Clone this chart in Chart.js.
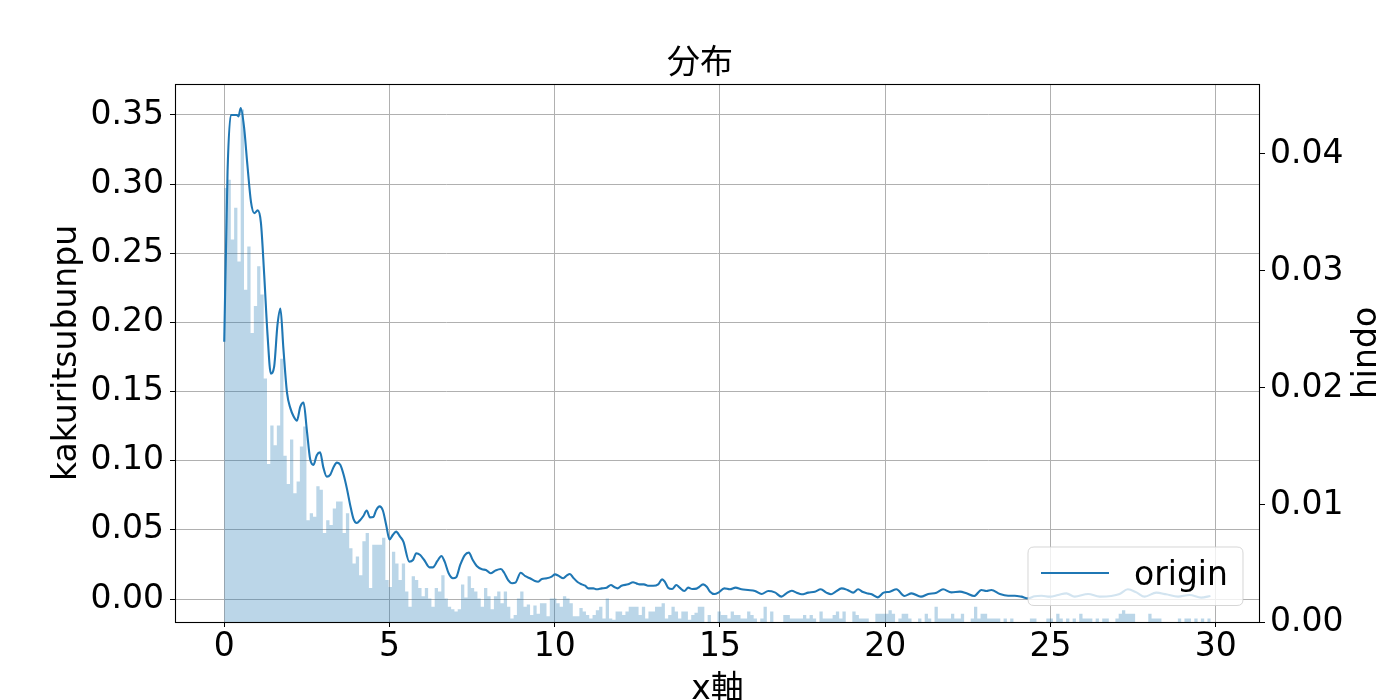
<!DOCTYPE html>
<html>
<head>
<meta charset="utf-8">
<script src="https://cdn.jsdelivr.net/npm/chart.js@4.4.1/dist/chart.umd.min.js"></script>
<style>
  html, body { margin: 0; padding: 0; background: #ffffff; }
  #wrap { width: 1400px; height: 700px; }
</style>
</head>
<body>
<div id="wrap"><canvas id="c" width="1400" height="700"></canvas></div>
<script>
// ---- text ----
const chartTitle = '分布';
const xTitle = 'x軸';
const leftTitle = 'kakuritsubunpu';
const rightTitle = 'hindo';
const lineLabel = 'origin';

// ---- tick labels ----
const xTicks = [0, 5, 10, 15, 20, 25, 30];
const leftTicks = [0.00, 0.05, 0.10, 0.15, 0.20, 0.25, 0.30, 0.35];
const rightTicks = [0.00, 0.01, 0.02, 0.03, 0.04];

// ---- histogram (right axis, "hindo"): 300 bins from 0 to 29.85 ----
const binStart = 0;
const binEnd = 29.85;
const hindo = [
  0.0371, 0.0378, 0.0327, 0.0354, 0.0308, 0.0438, 0.0284, 0.0321, 0.0247, 0.0270,
  0.0304, 0.0280, 0.0208, 0.0135, 0.0168, 0.0151, 0.0168, 0.0225, 0.0142, 0.0118,
  0.0156, 0.0110, 0.0120, 0.0150, 0.0167, 0.0087, 0.0093, 0.0090, 0.0116, 0.0113,
  0.0076, 0.0087, 0.0083, 0.0097, 0.0103, 0.0103, 0.0076, 0.0093, 0.0063, 0.0050,
  0.0056, 0.0040, 0.0069, 0.0076, 0.0029, 0.0066, 0.0066, 0.0066, 0.0072, 0.0036,
  0.0030, 0.0060, 0.0050, 0.0036, 0.0050, 0.0026, 0.0013, 0.0039, 0.0036, 0.0029,
  0.0022, 0.0029, 0.0020, 0.0013, 0.0029, 0.0026, 0.0040, 0.0020, 0.0013, 0.0011,
  0.0009, 0.0011, 0.0032, 0.0021, 0.0039, 0.0029, 0.0026, 0.0020, 0.0013, 0.0029,
  0.0022, 0.0011, 0.0022, 0.0026, 0.0016, 0.0026, 0.0013, 0.0003, 0.0006, 0.0020,
  0.0026, 0.0013, 0.0015, 0.0006, 0.0014, 0.0007, 0.0016, 0.0016, 0.0005, 0.0020,
  0.0020, 0.0016, 0.0013, 0.0022, 0.0020, 0.0016, 0.0005, 0.0005, 0.0012, 0.0009,
  0.0006, 0.0003, 0.0006, 0.0010, 0.0013, 0.0003, 0.0020, 0.0003, 0.0002, 0.0009,
  0.0009, 0.0006, 0.0009, 0.0013, 0.0013, 0.0013, 0.0006, 0.0013, 0.0003, 0.0009,
  0.0009, 0.0013, 0.0013, 0.0016, 0.0003, 0.0006, 0.0013, 0.0009, 0.0003, 0.0009,
  0.0009, 0.0002, 0.0006, 0.0008, 0.0013, 0.0013, 0, 0.0006, 0, 0,
  0.0009, 0.0006, 0.0006, 0.0003, 0.0009, 0.0006, 0.0006, 0.0003, 0.0003, 0.0009,
  0.0006, 0.0003, 0, 0.0003, 0.0013, 0, 0.0009, 0, 0, 0,
  0.0006, 0.0006, 0.0003, 0.0003, 0.0003, 0.0003, 0.0006, 0.0003, 0.0006, 0.0003,
  0, 0.0009, 0.0003, 0.0003, 0.0003, 0.0006, 0.0009, 0.0003, 0.0009, 0,
  0, 0.0009, 0.0006, 0.0003, 0.0003, 0.0003, 0, 0, 0.0007, 0.0007,
  0.0007, 0.0007, 0.0010, 0.0007, 0, 0.0003, 0.0007, 0.0007, 0.0003, 0,
  0, 0.0003, 0, 0.0007, 0.0003, 0, 0.0013, 0.0003, 0.0003, 0.0003,
  0.0003, 0.0007, 0.0003, 0.0003, 0.0007, 0, 0, 0.0003, 0.0013, 0.0003,
  0.0007, 0.0007, 0.0003, 0.0003, 0.0003, 0.0003, 0, 0.0003, 0, 0.0003,
  0, 0, 0, 0, 0, 0.0003, 0.0003, 0, 0, 0,
  0.0003, 0.0003, 0, 0.0007, 0.0003, 0, 0.0003, 0, 0.0003, 0,
  0.0007, 0.0003, 0.0003, 0.0003, 0, 0.0003, 0, 0.0003, 0.0003, 0,
  0, 0.0003, 0.0007, 0.0010, 0.0007, 0.0007, 0.0007, 0, 0, 0,
  0, 0.0007, 0.0003, 0.0003, 0.0003, 0, 0, 0, 0, 0,
  0.0003, 0, 0.0003, 0.0003, 0, 0.0003, 0, 0.0003, 0, 0.0003
];

// ---- density line (left axis, "origin") ----
const lineX = [
  0.00, 0.10, 0.20, 0.38, 0.43, 0.50, 0.60, 0.70, 0.81, 0.91,
  1.01, 1.11, 1.21, 1.31, 1.41, 1.51, 1.61, 1.70, 1.79, 1.90,
  2.00, 2.10, 2.20, 2.30, 2.40, 2.50, 2.60, 2.70, 2.80, 2.90,
  3.00, 3.10, 3.21, 3.31, 3.41, 3.51, 3.61, 3.71, 3.81, 3.91,
  4.01, 4.11, 4.21, 4.31, 4.41, 4.51, 4.60, 4.70, 4.80, 4.90,
  5.00, 5.10, 5.20, 5.32, 5.42, 5.60, 5.71, 5.81, 5.93, 6.05,
  6.21, 6.31, 6.45, 6.57, 6.67, 6.79, 6.92, 7.02, 7.14, 7.28,
  7.40, 7.52, 7.64, 7.80, 7.92, 8.06, 8.20, 8.37, 8.47, 8.59,
  8.71, 8.81, 8.97, 9.11, 9.25, 9.40, 9.50, 9.61, 9.76, 9.91,
  10.01, 10.11, 10.26, 10.36, 10.46, 10.56, 10.70, 10.82, 10.92, 11.02,
  11.17, 11.27, 11.42, 11.57, 11.70, 11.80, 11.90, 12.02, 12.22, 12.37,
  12.47, 12.57, 12.70, 12.82, 12.98, 13.13, 13.25, 13.33, 13.43, 13.55,
  13.68, 13.78, 13.92, 14.04, 14.16, 14.29, 14.36, 14.49, 14.60, 14.70,
  14.83, 14.95, 15.13, 15.30, 15.47, 15.65, 15.85, 16.06, 16.26, 16.46,
  16.66, 16.86, 17.01, 17.17, 17.32, 17.47, 17.67, 17.87, 18.05, 18.22,
  18.36, 18.50, 18.68, 18.86, 19.03, 19.18, 19.33, 19.48, 19.59, 19.77,
  19.95, 20.14, 20.34, 20.58, 20.80, 21.08, 21.30, 21.55, 21.75, 22.00,
  22.26, 22.46, 22.69, 22.91, 23.06, 23.21, 23.47, 23.72, 23.92, 24.12,
  24.32, 24.52, 24.73, 24.98, 25.23, 25.48, 25.73, 26.14, 26.49, 26.84,
  27.09, 27.34, 27.60, 27.85, 28.20, 28.50, 28.86, 29.21, 29.56, 29.84
];
const lineY = [
  0.186, 0.309, 0.350, 0.350, 0.349, 0.355, 0.341, 0.314, 0.287, 0.279,
  0.281, 0.272, 0.234, 0.191, 0.163, 0.168, 0.198, 0.210, 0.181, 0.149,
  0.138, 0.132, 0.129, 0.139, 0.142, 0.122, 0.101, 0.097, 0.104, 0.106,
  0.095, 0.0885, 0.090, 0.0955, 0.0986, 0.097, 0.090, 0.080, 0.068, 0.058,
  0.055, 0.057, 0.060, 0.064, 0.059, 0.0593, 0.0644, 0.067, 0.064, 0.0535,
  0.043, 0.0463, 0.0487, 0.0451, 0.0415, 0.0270, 0.0282, 0.0331, 0.0318, 0.0282,
  0.0229, 0.0229, 0.0275, 0.0311, 0.0270, 0.0186, 0.0150, 0.0157, 0.0246, 0.0318,
  0.0335, 0.0282, 0.0239, 0.0215, 0.0210, 0.0186, 0.0205, 0.0217, 0.0190, 0.0137,
  0.0114, 0.0118, 0.0190, 0.0165, 0.0150, 0.0130, 0.0125, 0.0145, 0.0150, 0.0162,
  0.0178, 0.0169, 0.0150, 0.0169, 0.0181, 0.0154, 0.0121, 0.0106, 0.0096, 0.0077,
  0.0077, 0.0070, 0.0077, 0.0082, 0.0101, 0.0087, 0.0077, 0.0096, 0.0106, 0.0121,
  0.0113, 0.0106, 0.0106, 0.0096, 0.0096, 0.0106, 0.0142, 0.0125, 0.0082, 0.0072,
  0.0101, 0.0082, 0.0058, 0.0082, 0.0072, 0.0075, 0.0085, 0.0106, 0.0089, 0.0053,
  0.0036, 0.0046, 0.0077, 0.0070, 0.0082, 0.0070, 0.0065, 0.0058, 0.0036, 0.0058,
  0.0048, 0.0017, 0.0041, 0.0060, 0.0046, 0.0034, 0.0046, 0.0053, 0.0070, 0.0046,
  0.0034, 0.0053, 0.0077, 0.0065, 0.0046, 0.0070, 0.0050, 0.0040, 0.0034, 0.0012,
  0.0046, 0.0053, 0.0070, 0.0022, 0.0041, 0.0017, 0.0036, 0.0046, 0.0070, 0.0048,
  0.0053, 0.0041, 0.0022, 0.0065, 0.0058, 0.0065, 0.0036, 0.0024, 0.0024, 0.0017,
  0.0005, 0.0020, 0.0024, 0.0017, 0.0029, 0.0041, 0.0017, 0.0036, 0.0017, 0.0022,
  0.0036, 0.0070, 0.0048, 0.0017, 0.0046, 0.0034, 0.0017, 0.0029, 0.0010, 0.0022
];

// ---- build library data from the arrays ----
// histogram drawn as a filled step outline: each bin value held from its left edge to the next edge
const binWidth = (binEnd - binStart) / hindo.length;
const histData = hindo.map((v, i) => ({ x: binStart + i * binWidth, y: v }));
histData.push({ x: binEnd, y: hindo[hindo.length - 1] });
const lineData = lineX.map((x, i) => ({ x: x, y: lineY[i] }));

const FONT = "'DejaVu Sans', 'Noto Sans CJK JP', sans-serif";
const BLUE = '#1f77b4';
Chart.defaults.font.family = FONT;
Chart.defaults.font.size = 33;
Chart.defaults.color = '#000000';

const framePlugin = {
  id: 'frameAndLegend',
  afterDatasetsDraw(chart) {
    const ctx = chart.ctx;
    const a = chart.chartArea;
    ctx.save();
    // axes frame (spines)
    ctx.strokeStyle = '#000000';
    ctx.lineWidth = 1.1;
    ctx.strokeRect(Math.round(a.left) + 0.5, Math.round(a.top) + 0.5,
                   Math.round(a.right - a.left) - 1, Math.round(a.bottom - a.top));
    // legend box in lower right
    const lx = a.right - 232, ly = a.bottom - 75, lw = 215, lh = 58.5, r = 6;
    ctx.beginPath();
    ctx.moveTo(lx + r, ly);
    ctx.lineTo(lx + lw - r, ly);
    ctx.quadraticCurveTo(lx + lw, ly, lx + lw, ly + r);
    ctx.lineTo(lx + lw, ly + lh - r);
    ctx.quadraticCurveTo(lx + lw, ly + lh, lx + lw - r, ly + lh);
    ctx.lineTo(lx + r, ly + lh);
    ctx.quadraticCurveTo(lx, ly + lh, lx, ly + lh - r);
    ctx.lineTo(lx, ly + r);
    ctx.quadraticCurveTo(lx, ly, lx + r, ly);
    ctx.closePath();
    ctx.fillStyle = 'rgba(255,255,255,0.8)';
    ctx.fill();
    ctx.strokeStyle = 'rgba(204,204,204,0.8)';
    ctx.lineWidth = 1;
    ctx.stroke();
    ctx.strokeStyle = BLUE;
    ctx.lineWidth = 2.1;
    ctx.beginPath();
    ctx.moveTo(lx + 13, ly + 26);
    ctx.lineTo(lx + 81, ly + 26);
    ctx.stroke();
    ctx.fillStyle = '#000000';
    ctx.font = '33px ' + FONT;
    ctx.textAlign = 'left';
    ctx.textBaseline = 'alphabetic';
    ctx.fillText(chart.data.datasets[0].label, lx + 106, ly + 37.5);
    // right axis title, reading bottom to top
    ctx.save();
    ctx.translate(1367, (a.top + a.bottom) / 2);
    ctx.rotate(-Math.PI / 2);
    ctx.textAlign = 'center';
    ctx.textBaseline = 'middle';
    ctx.fillText(rightTitle, 0, 0);
    ctx.restore();
    ctx.restore();
  }
};

new Chart(document.getElementById('c'), {
  type: 'line',
  data: {
    datasets: [
      {
        label: lineLabel,
        data: lineData,
        xAxisID: 'x',
        yAxisID: 'y',
        borderColor: BLUE,
        borderWidth: 2.1,
        pointRadius: 0,
        fill: false,
        cubicInterpolationMode: 'monotone',
        order: 2
      },
      {
        label: rightTitle,
        data: histData,
        xAxisID: 'x',
        yAxisID: 'y2',
        stepped: 'before',
        borderWidth: 0,
        borderColor: 'rgba(0,0,0,0)',
        backgroundColor: 'rgba(31,119,180,0.3)',
        pointRadius: 0,
        fill: 'origin',
        order: 1
      }
    ]
  },
  options: {
    responsive: false,
    animation: false,
    devicePixelRatio: 1,
    layout: { padding: 0 },
    plugins: {
      legend: { display: false },
      tooltip: { enabled: false },
      title: {
        display: true,
        text: chartTitle,
        color: '#000000',
        font: { size: 33, weight: 'normal', lineHeight: 1.2 },
        padding: { top: 44.2, bottom: 0.2 }
      }
    },
    scales: {
      x: {
        type: 'linear',
        position: 'bottom',
        offset: false,
        min: -1.49,
        max: 31.34,
        afterBuildTicks: s => { s.ticks = xTicks.map(v => ({ value: v })); },
        afterFit: s => { s.height = 78; },
        ticks: { color: '#000000', padding: 1, font: { size: 33 }, callback: v => String(v), maxRotation: 0 },
        grid: { offset: false, color: '#b0b0b0', lineWidth: 1, tickColor: '#000000', tickLength: 5, drawTicks: true },
        border: { display: false },
        title: { display: true, text: xTitle, color: '#000000', font: { size: 33, lineHeight: 1.2 }, padding: { top: 0, bottom: -10 } }
      },
      y: {
        type: 'linear',
        position: 'left',
        min: -0.01663,
        max: 0.3724,
        afterBuildTicks: s => { s.ticks = leftTicks.map(v => ({ value: v })); },
        afterFit: s => { s.width = 175; },
        ticks: { color: '#000000', padding: 6, font: { size: 33 }, callback: v => Number(v).toFixed(2) },
        grid: { color: '#b0b0b0', lineWidth: 1, tickColor: '#000000', tickLength: 5, drawTicks: true },
        border: { display: false },
        title: { display: true, text: leftTitle, color: '#000000', font: { size: 33, lineHeight: 1.2 }, padding: { top: 48, bottom: 0 } }
      },
      y2: {
        type: 'linear',
        position: 'right',
        min: 0,
        max: 0.04598,
        afterBuildTicks: s => { s.ticks = rightTicks.map(v => ({ value: v })); },
        afterFit: s => { s.width = 140; },
        ticks: { color: '#000000', padding: 5, font: { size: 33 }, callback: v => Number(v).toFixed(2) },
        grid: { drawOnChartArea: false, tickColor: '#000000', tickLength: 5, drawTicks: true },
        border: { display: false },
        title: { display: false }
      }
    }
  },
  plugins: [framePlugin]
});
</script>
</body>
</html>
